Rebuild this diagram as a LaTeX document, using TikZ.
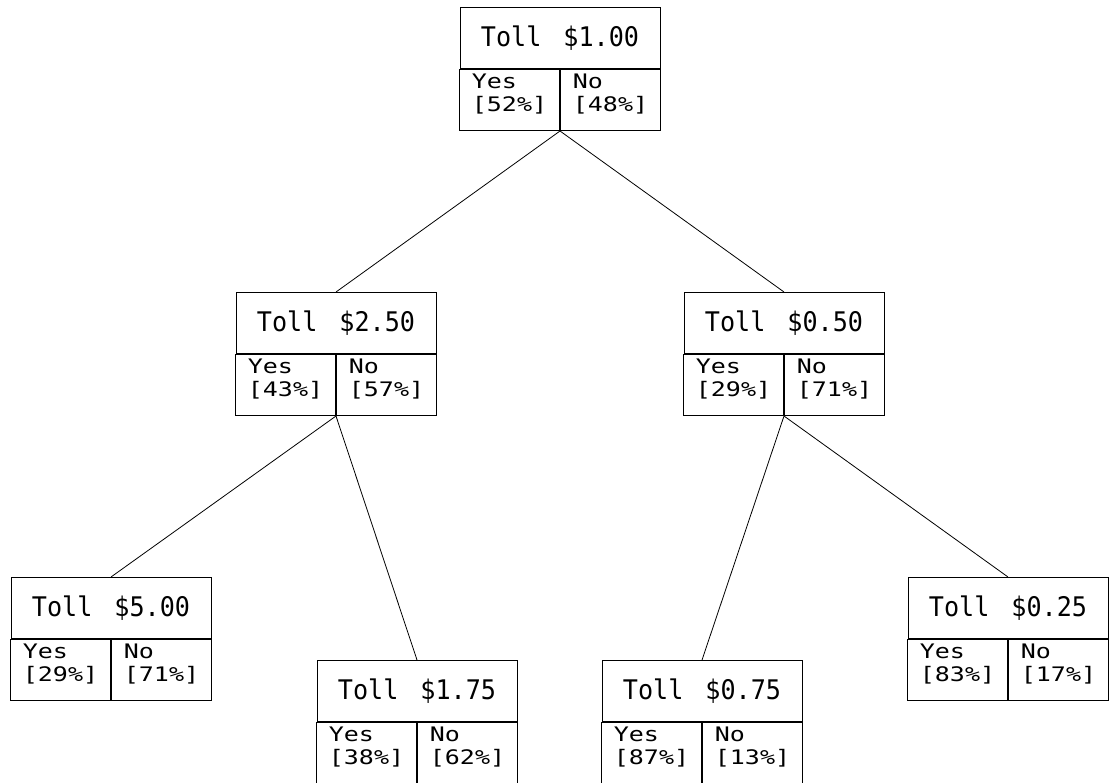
\documentclass[tikz,border=0pt]{standalone}
\usepackage{fontspec}
\newfontfamily\cadfont{DejaVu Sans Mono}[FakeStretch=0.93]
\newfontfamily\cadwide{DejaVu Sans Mono}[FakeStretch=1.25]

\tikzset{
  head/.style={draw, line width=1pt, minimum width=200pt, minimum height=61pt, inner sep=0pt, anchor=north, font=\cadfont\fontsize{27}{30}\selectfont},
  half/.style={draw, line width=1pt, minimum width=100pt, minimum height=61pt, inner sep=0pt},
  pct/.style={align=left, inner sep=0pt, yshift=6pt, font=\cadwide\fontsize{20}{22.5}\selectfont},
  link/.style={line width=0.8pt}
}

\newcommand{\tollbox}[5]{
  \node [head] (#1) at (#2) {Toll\hspace{7pt} \$#3};
  \node [half, anchor=north east] (#1-yes) at (#1.south) {};
  \node [half, anchor=north west] (#1-no) at (#1.south) {};
  \node [pct] (#1-yt) at (#1-yes) {Yes\\{[}#4\%{]}};
  \node [pct] (#1-nt) at (#1-no) {No\\{[}#5\%{]}};
}

\begin{document}
\begin{tikzpicture}[x=1pt, y=-1pt]
  \useasboundingbox (0,0) rectangle (1111,782);
  \tollbox{t100}{560,7}{1.00}{52}{48}
  \tollbox{t250}{336,292}{2.50}{43}{57}
  \tollbox{t050}{784,292}{0.50}{29}{71}
  \tollbox{t500}{111,577}{5.00}{29}{71}
  \tollbox{t175}{417,660}{1.75}{38}{62}
  \tollbox{t075}{702,660}{0.75}{87}{13}
  \tollbox{t025}{1008,577}{0.25}{83}{17}
  \draw [link] (t100-yes.south east) -- (t250.north);
  \draw [link] (t100-yes.south east) -- (t050.north);
  \draw [link] (t250-yes.south east) -- (t500.north);
  \draw [link] (t250-yes.south east) -- (t175.north);
  \draw [link] (t050-yes.south east) -- (t075.north);
  \draw [link] (t050-yes.south east) -- (t025.north);
\end{tikzpicture}
\end{document}
